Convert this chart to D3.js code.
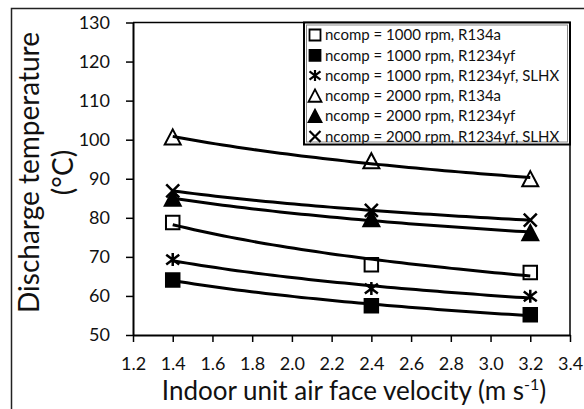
<!DOCTYPE html>
<html>
<head>
<meta charset="utf-8">
<script src="https://cdn.jsdelivr.net/npm/d3@7"></script>
<style>
  body { margin: 0; background: #fff; }
  svg { display: block; font-family: Lato, "Open Sans", sans-serif; }
</style>
</head>
<body>
<svg id="chart" width="584" height="409"></svg>
<script>
// air face velocity (m/s)
const velocity = [1.4, 2.4, 3.2];
// discharge temperature (°C)
const r134a1000 = [78.8, 68.0, 66.0];
const r1234yf1000 = [64.1, 57.5, 55.2];
const slhx1000 = [69.3, 61.9, 59.9];
const r134a2000 = [100.6, 94.5, 89.9];
const r1234yf2000 = [84.9, 79.7, 76.1];
const slhx2000 = [86.9, 81.9, 79.4];

const seriesLabels = [
  "ncomp = 1000 rpm, R134a",
  "ncomp = 1000 rpm, R1234yf",
  "ncomp = 1000 rpm, R1234yf, SLHX",
  "ncomp = 2000 rpm, R134a",
  "ncomp = 2000 rpm, R1234yf",
  "ncomp = 2000 rpm, R1234yf, SLHX"
];
const xTicks = [1.2, 1.4, 1.6, 1.8, 2.0, 2.2, 2.4, 2.6, 2.8, 3.0, 3.2, 3.4];
const yTicks = [50, 60, 70, 80, 90, 100, 110, 120, 130];

// marker shapes, size = side length squared
const shapeSquare = { draw(ctx, size) { const r = Math.sqrt(size) / 2; ctx.rect(-r, -r, 2 * r, 2 * r); } };
const shapeTriangle = { draw(ctx, size) {
  const r = Math.sqrt(size) / 2;
  ctx.moveTo(0, -r); ctx.lineTo(r, r * 0.9); ctx.lineTo(-r, r * 0.9); ctx.closePath();
} };
const shapeX = { draw(ctx, size) {
  const r = Math.sqrt(size) / 2;
  ctx.moveTo(-r, -r); ctx.lineTo(r, r); ctx.moveTo(r, -r); ctx.lineTo(-r, r);
} };
const shapeStar = { draw(ctx, size) {
  const r = Math.sqrt(size) / 2;
  ctx.moveTo(-r, -r * 0.75); ctx.lineTo(r, r * 0.75); ctx.moveTo(r, -r * 0.75); ctx.lineTo(-r, r * 0.75);
  ctx.moveTo(0, -r); ctx.lineTo(0, r);
} };

const series = [
  { name: seriesLabels[0], values: r134a1000, shape: shapeSquare, fill: "#fff", line: false },
  { name: seriesLabels[1], values: r1234yf1000, shape: shapeSquare, fill: "#000", line: false },
  { name: seriesLabels[2], values: slhx1000, shape: shapeStar, fill: "none", line: true },
  { name: seriesLabels[3], values: r134a2000, shape: shapeTriangle, fill: "#fff", line: false },
  { name: seriesLabels[4], values: r1234yf2000, shape: shapeTriangle, fill: "#000", line: false },
  { name: seriesLabels[5], values: slhx2000, shape: shapeX, fill: "none", line: true }
];

const svg = d3.select("#chart");
const margin = { top: 22.5, right: 14, bottom: 74, left: 133 };
const width = 584 - margin.left - margin.right;
const height = 409 - margin.top - margin.bottom;

// outer chart frame
svg.append("path")
  .attr("d", "M11.5,409 V8.5 H584")
  .attr("fill", "none")
  .attr("stroke", "#222")
  .attr("stroke-width", 1.5);

const x = d3.scaleLinear().domain([1.2, 3.4]).range([0, width]);
const y = d3.scaleLinear().domain([50, 130]).range([height, 0]);

const g = svg.append("g").attr("transform", `translate(${margin.left},${margin.top})`);

// plot area frame (top, right)
g.append("path")
  .attr("d", `M0,0 H${width} V${height}`)
  .attr("fill", "none")
  .attr("stroke", "#000")
  .attr("stroke-width", 1.5);

const xAxis = g.append("g")
  .attr("transform", `translate(0,${height})`)
  .call(d3.axisBottom(x).tickValues(xTicks).tickFormat(d3.format(".1f")).tickSizeInner(7).tickSizeOuter(0).tickPadding(15));
const yAxis = g.append("g")
  .call(d3.axisLeft(y).tickValues(yTicks).tickSizeInner(7).tickSizeOuter(0).tickPadding(16));

[xAxis, yAxis].forEach(a => {
  a.select(".domain").attr("stroke-width", 2);
  a.selectAll(".tick line").attr("stroke-width", 1.5);
  a.selectAll(".tick text").attr("font-size", 18).attr("fill", "#111").style("font-family", "Lato, sans-serif");
});

// markers
series.forEach(s => {
  g.append("g").selectAll("path")
    .data(s.values.map((v, i) => ({ x: velocity[i], y: v })))
    .join("path")
    .attr("transform", d => `translate(${x(d.x)},${y(d.y)})`)
    .attr("d", d3.symbol(s.shape, s.line ? 169 : (s.shape === shapeTriangle ? 256 : 182)))
    .attr("fill", s.fill)
    .attr("stroke", "#000")
    .attr("stroke-width", s.line ? 2.5 : 2);
});

// power trendlines (least squares on log-log), drawn over the data range
const line = d3.line().x(d => x(d[0])).y(d => y(d[1])).curve(d3.curveLinear);
series.forEach(s => {
  const lx = velocity.map(Math.log), ly = s.values.map(Math.log);
  const mx = d3.mean(lx), my = d3.mean(ly);
  const b = d3.sum(lx, (v, i) => (v - mx) * (ly[i] - my)) / d3.sum(lx, v => (v - mx) * (v - mx));
  const a = Math.exp(my - b * mx);
  const xs = d3.range(0, 51).map(i => velocity[0] + (velocity[2] - velocity[0]) * i / 50);
  g.append("path")
    .attr("d", line(xs.map(v => [v, a * Math.pow(v, b)])))
    .attr("fill", "none")
    .attr("stroke", "#000")
    .attr("stroke-width", 3);
});

// axis titles
svg.append("text")
  .attr("x", 354).attr("y", 400)
  .attr("text-anchor", "middle")
  .attr("font-size", 26)
  .attr("fill", "#111")
  .call(t => {
    t.append("tspan").text("Indoor unit air face velocity (m s");
    t.append("tspan").attr("dy", -10).attr("font-size", 16).text("-1");
    t.append("tspan").attr("dy", 10).text(")");
  });

const yTitle = svg.append("text")
  .attr("transform", "translate(0,172.5) rotate(-90)")
  .attr("text-anchor", "middle")
  .attr("font-size", 28)
  .attr("fill", "#111");
yTitle.append("tspan").attr("x", 0).attr("y", 39).text("Discharge temperature");
yTitle.append("tspan").attr("x", 0).attr("y", 73).text("(°C)");

// legend
const legend = svg.append("g").attr("transform", "translate(304,22.5)");
legend.append("rect")
  .attr("width", 266).attr("height", 122)
  .attr("fill", "#fff")
  .attr("stroke", "#000")
  .attr("stroke-width", 2);
legend.append("rect")
  .attr("x", 2.5).attr("y", 2.5)
  .attr("width", 261).attr("height", 117)
  .attr("fill", "none")
  .attr("stroke", "#888")
  .attr("stroke-width", 1);

const rows = legend.selectAll("g.row")
  .data(series)
  .join("g")
  .attr("class", "row")
  .attr("transform", (d, i) => `translate(0,${12.5 + i * 20.3})`);
rows.append("path")
  .attr("transform", "translate(11,0)")
  .attr("d", d => d3.symbol(d.shape, d.line ? 121 : (d.shape === shapeTriangle ? 169 : 121))())
  .attr("fill", d => d.fill)
  .attr("stroke", "#000")
  .attr("stroke-width", d => d.line ? 2.2 : 1.8);
rows.append("text")
  .attr("x", 21)
  .attr("dy", "0.35em")
  .attr("font-size", 15)
  .attr("fill", "#111")
  .text(d => d.name);
</script>
</body>
</html>
